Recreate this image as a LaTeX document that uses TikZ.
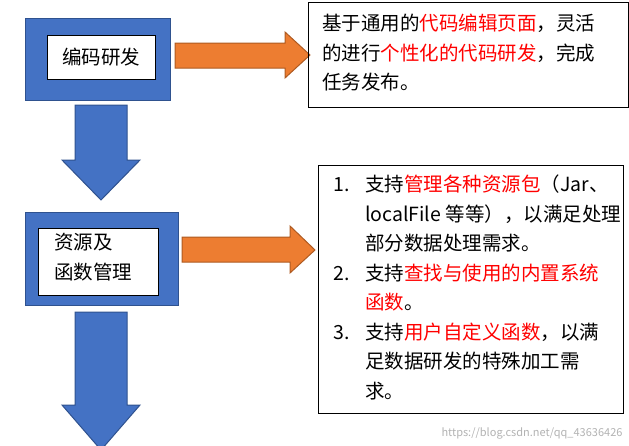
\documentclass[tikz,border=0pt]{standalone}
\usepackage{fontspec}
\setmainfont{Noto Sans CJK SC}
\usetikzlibrary{positioning}
\definecolor{bluefill}{HTML}{4472C4}
\definecolor{blueline}{HTML}{2F528F}
\definecolor{orangefill}{HTML}{ED7D31}
\definecolor{orangeline}{HTML}{AE5A21}
\newcommand{\hl}[1]{\textcolor{red}{#1}}
\tikzset{
  blueblock/.style={fill=bluefill, draw=blueline, line width=1pt},
  orangearrow/.style={fill=orangefill, draw=orangeline, line width=1pt},
  whitebox/.style={draw=black, fill=white, line width=0.6pt},
  textbox/.style={draw=black, line width=0.8pt},
  bodytext/.style={font=\fontsize{19.5}{29.5}\selectfont, align=left, anchor=north west, inner sep=0pt}
}
\begin{document}
\begin{tikzpicture}[x=1pt,y=-1pt]
  \useasboundingbox (0,0) rectangle (629,445);
  % first stage
  \draw[blueblock] (25,18) rectangle (170,100);
  \node[whitebox, minimum width=108pt, minimum height=44pt, anchor=north west,
        font=\fontsize{19.5}{22}\selectfont] (code) at (47,35) {编码研发};
  \draw[orangearrow] (175,43) -- (285,43) -- (285,32) -- (310,55) -- (285,78) -- (285,68) -- (175,68) -- cycle;
  \draw[textbox] (308,2) rectangle (628,107);
  \node[bodytext] (codetext) at (322,14) {基于通用的\hl{代码编辑页面}，灵活\\
    的进行\hl{个性化的代码研发}，完成\\任务发布。};
  \draw[blueblock] (75,105) -- (127,105) -- (127,160) -- (140,160) -- (101,200) -- (62,160) -- (75,160) -- cycle;
  % second stage
  \draw[blueblock] (25,212) rectangle (178,305);
  \node[whitebox, minimum width=120pt, minimum height=67pt, anchor=north west] (res) at (38,228) {};
  \node[bodytext] (restext) at (54,233) {资源及\\函数管理};
  \draw[orangearrow] (182,237) -- (290,237) -- (290,226) -- (315,250) -- (290,273) -- (290,262) -- (182,262) -- cycle;
  \draw[textbox] (318,165) rectangle (623,413);
  \node[bodytext] (restext2) at (333,175) {%
    \makebox[32pt][l]{1.}支持\hl{管理各种资源包}（Jar、\\
    \hspace*{32pt}localFile 等等），以满足处理\\
    \hspace*{32pt}部分数据处理需求。\\
    \makebox[32pt][l]{2.}支持\hl{查找与使用的内置系统}\\
    \hspace*{32pt}\hl{函数}。\\
    \makebox[32pt][l]{3.}支持\hl{用户自定义函数}，以满\\
    \hspace*{32pt}足数据研发的特殊加工需\\
    \hspace*{32pt}求。};
  \draw[blueblock] (75,312) -- (127,312) -- (127,405) -- (140,405) -- (101,450) -- (62,405) -- (75,405) -- cycle;
  \node[font=\fontsize{11}{12}\selectfont, text=black!30, anchor=south east] (mark) at (626,443) {https://blog.csdn.net/qq\_43636426};
\end{tikzpicture}
\end{document}
